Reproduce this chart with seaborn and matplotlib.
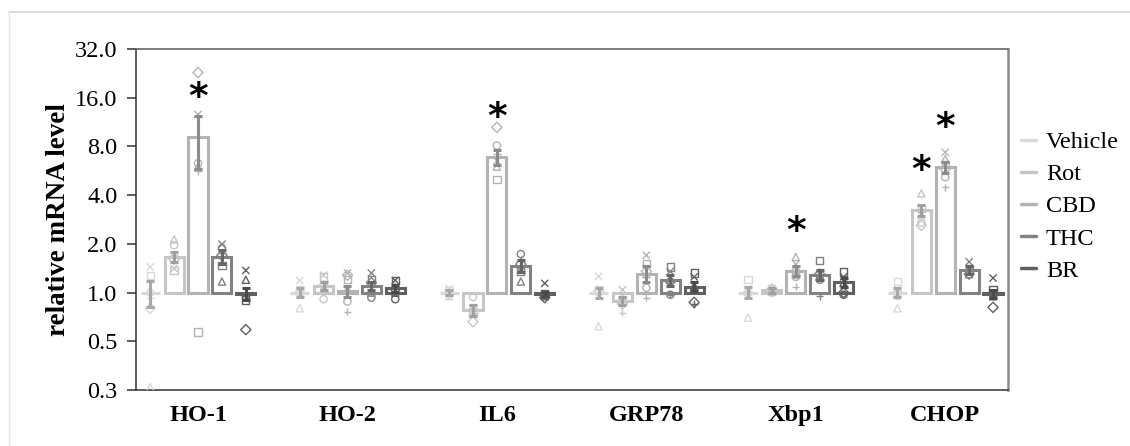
import numpy as np
import pandas as pd
import matplotlib
matplotlib.use("Agg")
import matplotlib.pyplot as plt
from matplotlib.lines import Line2D
import seaborn as sns

genes = ["HO-1", "HO-2", "IL6", "GRP78", "Xbp1", "CHOP"]
treatments = ["Vehicle", "Rot", "CBD", "THC", "BR"]

# mean fold change, per gene: [Vehicle, Rot, CBD, THC, BR]
mean_ho1 = [1.00, 1.66, 9.10, 1.66, 0.98]
mean_ho2 = [1.00, 1.10, 1.02, 1.10, 1.06]
mean_il6 = [1.00, 0.78, 6.90, 1.46, 0.98]
mean_grp78 = [1.00, 0.89, 1.31, 1.19, 1.09]
mean_xbp1 = [1.00, 1.03, 1.36, 1.28, 1.16]
mean_chop = [1.00, 3.22, 5.95, 1.38, 0.98]

sem_ho1 = [0.18, 0.12, 3.30, 0.16, 0.08]
sem_ho2 = [0.06, 0.07, 0.08, 0.07, 0.05]
sem_il6 = [0.04, 0.06, 0.75, 0.12, 0.03]
sem_grp78 = [0.07, 0.05, 0.15, 0.09, 0.07]
sem_xbp1 = [0.08, 0.03, 0.10, 0.09, 0.07]
sem_chop = [0.06, 0.25, 0.45, 0.08, 0.06]

# individual replicates (one list per treatment, 6 replicates each)
pts_ho1 = [[1.44, 1.28, 0.26, 1.00, 0.80, 0.92],
           [1.41, 1.37, 2.13, 1.96, 1.60, 1.70],
           [12.6, 0.57, 6.00, 6.30, 22.9, 5.60],
           [1.99, 1.47, 1.17, 1.88, 1.70, 1.75],
           [1.37, 0.90, 1.20, 0.95, 0.59, 1.00]]
pts_ho2 = [[1.19, 1.05, 0.80, 0.98, 1.00, 0.97],
           [1.28, 1.25, 1.05, 0.91, 1.10, 1.02],
           [1.32, 1.20, 1.05, 0.88, 1.28, 0.76],
           [1.32, 1.20, 1.00, 0.93, 1.15, 1.00],
           [1.19, 1.19, 1.00, 0.91, 1.05, 1.00]]
pts_il6 = [[1.06, 1.03, 0.95, 1.00, 0.98, 0.97],
           [0.80, 0.76, 0.74, 0.94, 0.66, 0.75],
           [6.50, 5.00, 6.00, 8.10, 10.5, 7.20],
           [1.40, 1.35, 1.17, 1.73, 1.50, 1.60],
           [1.14, 0.98, 0.95, 0.97, 0.93, 0.96]]
pts_grp78 = [[1.26, 1.05, 0.62, 1.00, 1.02, 1.00],
             [1.04, 0.90, 0.92, 0.88, 0.85, 0.75],
             [1.70, 1.52, 1.30, 1.07, 1.35, 0.93],
             [1.35, 1.44, 1.20, 0.97, 1.17, 0.97],
             [1.25, 1.32, 1.10, 1.05, 0.87, 0.85]]
pts_xbp1 = [[1.05, 1.21, 0.70, 0.98, 1.00, 1.02],
            [1.06, 1.02, 1.04, 1.00, 1.05, 1.00],
            [1.50, 1.30, 1.66, 1.25, 1.35, 1.09],
            [1.30, 1.57, 1.25, 1.20, 1.30, 0.95],
            [1.25, 1.34, 1.15, 0.97, 1.00, 1.10]]
pts_chop = [[1.05, 1.17, 0.80, 0.95, 1.00, 1.02],
            [3.00, 3.30, 4.10, 2.70, 2.60, 3.30],
            [7.36, 6.20, 6.70, 5.16, 5.80, 4.48],
            [1.55, 1.40, 1.30, 1.35, 1.30, 1.40],
            [1.23, 1.05, 0.95, 0.97, 0.81, 0.95]]

# significance marks: (gene, treatment)
significant = [("HO-1", "CBD"), ("IL6", "CBD"), ("Xbp1", "CBD"),
               ("CHOP", "Rot"), ("CHOP", "CBD")]

ytick_values = [0.25, 0.5, 1, 2, 4, 8, 16, 32]
ytick_labels = ["0.3", "0.5", "1.0", "2.0", "4.0", "8.0", "16.0", "32.0"]

bar_colors = ["#d9d9d9", "#c6c6c6", "#b3b3b3", "#828282", "#606060"]
err_colors = ["#a8a8a8", "#a0a0a0", "#8c8c8c", "#666666", "#4a4a4a"]
rep_markers = ["x", "s", "^", "o", "D", "+"]

# ---------------------------------------------------------------
means = [mean_ho1, mean_ho2, mean_il6, mean_grp78, mean_xbp1, mean_chop]
sems = [sem_ho1, sem_ho2, sem_il6, sem_grp78, sem_xbp1, sem_chop]
pts = [pts_ho1, pts_ho2, pts_il6, pts_grp78, pts_xbp1, pts_chop]

rows = []
for g, gene in enumerate(genes):
    for t, tr in enumerate(treatments):
        rows.append(dict(gene=gene, treatment=tr, mean=means[g][t], sem=sems[g][t]))
df = pd.DataFrame(rows)
df["lmean"] = np.log2(df["mean"])
df["llo"] = np.log2(df["mean"] - df["sem"])
df["lhi"] = np.log2(df["mean"] + df["sem"])

prow = []
for g, gene in enumerate(genes):
    for t, tr in enumerate(treatments):
        for r, v in enumerate(pts[g][t]):
            prow.append(dict(gene=gene, treatment=tr, rep=r, value=v))
dp = pd.DataFrame(prow)
dp["lval"] = np.log2(dp["value"])

sns.set_theme(style="white")
plt.rcParams["font.family"] = ["Liberation Serif", "DejaVu Serif"]
plt.rcParams["text.color"] = "black"
plt.rcParams["axes.labelcolor"] = "black"
plt.rcParams["xtick.color"] = "black"
plt.rcParams["ytick.color"] = "black"

fig = plt.figure(figsize=(11.3, 4.46), dpi=100)
ax = fig.add_axes([136 / 1130, 1 - 390 / 446, (1008 - 136) / 1130, (390 - 49) / 446])

palette = dict(zip(treatments, bar_colors))
sns.barplot(data=df, x="gene", y="lmean", hue="treatment", order=genes,
            hue_order=treatments, palette=palette, fill=False, linewidth=2.2,
            width=0.8, gap=0.2, errorbar=None, legend=False, ax=ax)

# bar centers
centers = sorted([p.get_x() + p.get_width() / 2 for p in ax.patches])
centers = np.array(centers).reshape(len(genes), len(treatments))

for r, m in enumerate(rep_markers):
    n_before = len(ax.collections)
    sns.stripplot(data=dp[dp["rep"] == r], x="gene", y="lval", hue="treatment",
                  order=genes, hue_order=treatments, palette=palette, dodge=True,
                  jitter=False, marker=m, size=5.2, linewidth=1.0, legend=False,
                  ax=ax, zorder=3)
    for coll in ax.collections[n_before:]:
        fc = coll.get_facecolors()
        if len(fc):
            coll.set_edgecolors(fc)
            coll.set_facecolors("none")
            coll.set_linewidths(1.0)

for t, tr in enumerate(treatments):
    sub = df[df["treatment"] == tr]
    y = sub["lmean"].values
    lo = y - sub["llo"].values
    hi = sub["lhi"].values - y
    ax.errorbar(centers[:, t], y, yerr=[lo, hi], fmt="none", ecolor=err_colors[t],
                elinewidth=2.2, capsize=3.2, capthick=2.2, zorder=4)

for gene, tr in significant:
    g = genes.index(gene)
    t = treatments.index(tr)
    m = df[(df["gene"] == gene) & (df["treatment"] == tr)]["lmean"].values[0]
    ax.text(centers[g, t], m + 0.8, "*", ha="center", va="center",
            fontsize=27, fontweight="bold", color="black",
            family="DejaVu Sans", zorder=5)

ax.set_xlim(-0.415, 5.42)
ax.set_ylim(-2, 5)
ax.set_yticks(np.log2(ytick_values))
ax.set_yticklabels(ytick_labels)
ax.set_xlabel("")
ax.set_ylabel("relative mRNA level", fontsize=19.5, fontweight="bold")
ax.yaxis.set_label_coords(-0.074, 0.5)
ax.tick_params(axis="y", which="major", direction="out", length=6.5, width=1.1,
               color="#333333", labelsize=17.5, pad=7, left=True)
ax.tick_params(axis="x", length=0, labelsize=17.5, pad=11)
for lab in ax.get_xticklabels():
    lab.set_fontweight("bold")
for s in ["left", "bottom"]:
    ax.spines[s].set_color("#333333")
    ax.spines[s].set_linewidth(1.1)
ax.spines["top"].set_color("#666666")
ax.spines["top"].set_linewidth(1.2)
ax.spines["right"].set_color("#8a8a8a")
ax.spines["right"].set_linewidth(1.8)

handles = [Line2D([0], [0], color=c, lw=2.5) for c in bar_colors]
fig.legend(handles, treatments, loc="upper left",
           bbox_to_anchor=(1021 / 1130, 1 - 131 / 446), frameon=False,
           fontsize=17.5, handlelength=0.6, handletextpad=0.42,
           labelspacing=0.42, borderpad=0, borderaxespad=0)

# light outer frame (top and left edges)
fig.add_artist(Line2D([9 / 1130, 1.0], [1 - 12 / 446, 1 - 12 / 446],
                      transform=fig.transFigure, color="#d9d9d9", lw=1.3))
fig.add_artist(Line2D([9 / 1130, 9 / 1130], [0.0, 1 - 12 / 446],
                      transform=fig.transFigure, color="#e6e6e6", lw=1.0))

fig.savefig("out.png", dpi=100)
